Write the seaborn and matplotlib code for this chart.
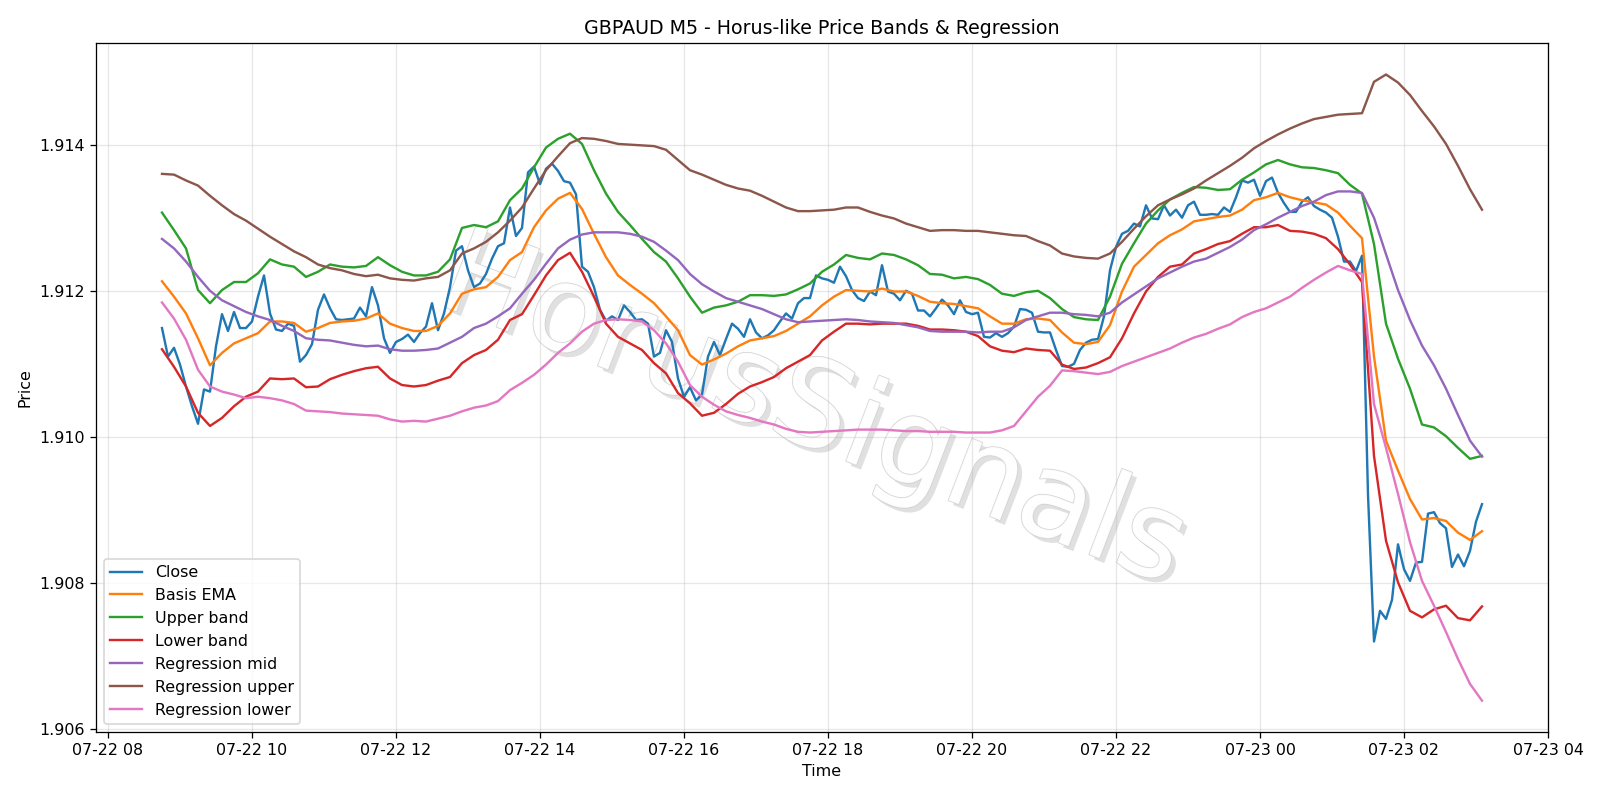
import numpy as np
import pandas as pd
import matplotlib
matplotlib.use("Agg")
import matplotlib.pyplot as plt
import matplotlib.dates as mdates
import matplotlib.patheffects as pe
import seaborn as sns

# ---- data ----
close_start = "2025-07-22 08:45"      # 5-minute closes
close = [
    1.91149, 1.91110, 1.91122,
    1.91099, 1.91069, 1.91042, 1.91018, 1.91065, 1.91062, 1.91124, 1.91168, 1.91145, 1.91171, 1.91149, 1.91149,
    1.91158, 1.91192, 1.91221, 1.91169, 1.91147, 1.91145, 1.91155, 1.91152, 1.91103, 1.91112, 1.91127, 1.91174,
    1.91195, 1.91176, 1.91161, 1.91160, 1.91161, 1.91162, 1.91177, 1.91165, 1.91205, 1.91180, 1.91135, 1.91115,
    1.91130, 1.91134, 1.91140, 1.91130, 1.91142, 1.91151, 1.91183, 1.91146, 1.91169, 1.91205, 1.91255, 1.91261,
    1.91228, 1.91205, 1.91210, 1.91223, 1.91244, 1.91261, 1.91265, 1.91314, 1.91275, 1.91286, 1.91362, 1.91370,
    1.91346, 1.91367, 1.91374, 1.91364, 1.91350, 1.91348, 1.91332, 1.91233, 1.91226, 1.91205, 1.91174, 1.91159,
    1.91165, 1.91160, 1.91180, 1.91171, 1.91160, 1.91161, 1.91155, 1.91110, 1.91115, 1.91146, 1.91130, 1.91080,
    1.91055, 1.91068, 1.91050, 1.91058, 1.91110, 1.91130, 1.91112, 1.91134, 1.91155, 1.91148, 1.91137, 1.91161,
    1.91143, 1.91135, 1.91139, 1.91146, 1.91158, 1.91169, 1.91162, 1.91183, 1.91190, 1.91190, 1.91221, 1.91217,
    1.91215, 1.91211, 1.91233, 1.91220, 1.91201, 1.91190, 1.91186, 1.91199, 1.91194, 1.91235, 1.91199, 1.91196,
    1.91187, 1.91200, 1.91196, 1.91173, 1.91173, 1.91165, 1.91176, 1.91188, 1.91180, 1.91168, 1.91187, 1.91171,
    1.91168, 1.91170, 1.91137, 1.91136, 1.91142, 1.91137, 1.91142, 1.91151, 1.91175, 1.91174, 1.91170, 1.91144,
    1.91143, 1.91143, 1.91119, 1.91097, 1.91096, 1.91100, 1.91119, 1.91129, 1.91133, 1.91134, 1.91165, 1.91228,
    1.91260, 1.91278, 1.91282, 1.91292, 1.91288, 1.91317, 1.91299, 1.91298, 1.91317, 1.91303, 1.91311, 1.91300,
    1.91317, 1.91322, 1.91304, 1.91304, 1.91305, 1.91304, 1.91314, 1.91308, 1.91328, 1.91351, 1.91348, 1.91352,
    1.91330, 1.91350, 1.91355, 1.91334, 1.91320, 1.91308, 1.91308, 1.91322, 1.91328, 1.91316, 1.91311, 1.91307,
    1.91300, 1.91274, 1.91240, 1.91240, 1.91227, 1.91248, 1.90921, 1.90720, 1.90762, 1.90751, 1.90777, 1.90853,
    1.90819, 1.90803, 1.90828, 1.90829, 1.90895, 1.90897, 1.90882, 1.90875, 1.90822, 1.90839, 1.90823, 1.90844,
    1.90884, 1.90908,
]

band_start = "2025-07-22 08:45"       # indicator values every 10 minutes
basis_ema = [
    1.91213, 1.91192,
    1.91169, 1.91135, 1.91098, 1.91115, 1.91128, 1.91135,
    1.91142, 1.91158, 1.91158, 1.91156, 1.91144, 1.91149,
    1.91156, 1.91158, 1.91159, 1.91162, 1.91169, 1.91155,
    1.91149, 1.91145, 1.91145, 1.91152, 1.91169, 1.91196,
    1.91202, 1.91205, 1.91219, 1.91242, 1.91253, 1.91287,
    1.91310, 1.91326, 1.91334, 1.91312, 1.91278, 1.91246,
    1.91221, 1.91208, 1.91196, 1.91183, 1.91165, 1.91146,
    1.91112, 1.91099, 1.91106, 1.91114, 1.91124, 1.91132,
    1.91135, 1.91138, 1.91145, 1.91155, 1.91165, 1.91180,
    1.91192, 1.91201, 1.91200, 1.91199, 1.91203, 1.91199,
    1.91199, 1.91193, 1.91185, 1.91183, 1.91182, 1.91179,
    1.91176, 1.91165, 1.91155, 1.91155, 1.91161, 1.91162,
    1.91160, 1.91143, 1.91129, 1.91127, 1.91130, 1.91153,
    1.91199, 1.91233, 1.91249, 1.91265, 1.91276, 1.91284,
    1.91295, 1.91298, 1.91301, 1.91303, 1.91311, 1.91324,
    1.91328, 1.91334, 1.91328, 1.91324, 1.91321, 1.91318,
    1.91307, 1.91289, 1.91272, 1.91110, 1.90995, 1.90954,
    1.90915, 1.90887, 1.90889, 1.90885, 1.90869, 1.90859,
    1.90871,
]
upper_band = [
    1.91307, 1.91283,
    1.91258, 1.91201, 1.91183, 1.91201, 1.91212, 1.91212,
    1.91224, 1.91243, 1.91236, 1.91233, 1.91219, 1.91226,
    1.91236, 1.91233, 1.91232, 1.91234, 1.91246, 1.91235,
    1.91226, 1.91221, 1.91221, 1.91226, 1.91243, 1.91286,
    1.91290, 1.91287, 1.91295, 1.91324, 1.91340, 1.91369,
    1.91396, 1.91408, 1.91415, 1.91401, 1.91365, 1.91333,
    1.91308, 1.91290, 1.91271, 1.91253, 1.91240, 1.91217,
    1.91192, 1.91170, 1.91177, 1.91180, 1.91185, 1.91194,
    1.91194, 1.91193, 1.91195, 1.91202, 1.91210, 1.91226,
    1.91236, 1.91249, 1.91245, 1.91243, 1.91251, 1.91249,
    1.91243, 1.91235, 1.91223, 1.91222, 1.91217, 1.91219,
    1.91216, 1.91208, 1.91196, 1.91193, 1.91198, 1.91200,
    1.91190, 1.91175, 1.91164, 1.91161, 1.91160, 1.91192,
    1.91237, 1.91265, 1.91292, 1.91310, 1.91325, 1.91334,
    1.91342, 1.91341, 1.91338, 1.91339, 1.91352, 1.91362,
    1.91373, 1.91379, 1.91373, 1.91369, 1.91368, 1.91365,
    1.91361, 1.91345, 1.91333, 1.91264, 1.91155, 1.91107,
    1.91066, 1.91017, 1.91013, 1.91001, 1.90985, 1.90970,
    1.90974,
]
lower_band = [
    1.91120, 1.91096,
    1.91069, 1.91033, 1.91015, 1.91026, 1.91042, 1.91055,
    1.91062, 1.91080, 1.91079, 1.91080, 1.91068, 1.91069,
    1.91079, 1.91085, 1.91090, 1.91094, 1.91096, 1.91080,
    1.91071, 1.91069, 1.91071, 1.91077, 1.91082, 1.91101,
    1.91112, 1.91119, 1.91133, 1.91160, 1.91168, 1.91194,
    1.91221, 1.91242, 1.91252, 1.91226, 1.91192, 1.91155,
    1.91137, 1.91128, 1.91119, 1.91101, 1.91087, 1.91060,
    1.91046, 1.91029, 1.91033, 1.91045, 1.91059, 1.91069,
    1.91075, 1.91082, 1.91094, 1.91103, 1.91112, 1.91132,
    1.91144, 1.91155, 1.91155, 1.91154, 1.91155, 1.91155,
    1.91155, 1.91152, 1.91147, 1.91147, 1.91146, 1.91144,
    1.91138, 1.91124, 1.91118, 1.91116, 1.91121, 1.91119,
    1.91118, 1.91099, 1.91093, 1.91095, 1.91101, 1.91109,
    1.91135, 1.91169, 1.91199, 1.91219, 1.91233, 1.91236,
    1.91251, 1.91257, 1.91264, 1.91268, 1.91278, 1.91287,
    1.91287, 1.91290, 1.91282, 1.91281, 1.91278, 1.91272,
    1.91257, 1.91236, 1.91212, 1.90974, 1.90858, 1.90801,
    1.90762, 1.90753, 1.90764, 1.90769, 1.90752, 1.90749,
    1.90768,
]
reg_mid = [
    1.91271, 1.91258,
    1.91240, 1.91219, 1.91200, 1.91187, 1.91179, 1.91171,
    1.91165, 1.91160, 1.91152, 1.91145, 1.91135, 1.91133,
    1.91132, 1.91129, 1.91126, 1.91124, 1.91125, 1.91120,
    1.91118, 1.91118, 1.91119, 1.91121, 1.91129, 1.91137,
    1.91149, 1.91155, 1.91165, 1.91176, 1.91196, 1.91215,
    1.91237, 1.91258, 1.91270, 1.91277, 1.91280, 1.91280,
    1.91280, 1.91278, 1.91274, 1.91267, 1.91255, 1.91242,
    1.91223, 1.91209, 1.91199, 1.91190, 1.91185, 1.91180,
    1.91175, 1.91168, 1.91161, 1.91157, 1.91158, 1.91159,
    1.91160, 1.91161, 1.91160, 1.91158, 1.91157, 1.91156,
    1.91153, 1.91150, 1.91145, 1.91144, 1.91144, 1.91144,
    1.91143, 1.91144, 1.91144, 1.91150, 1.91160, 1.91165,
    1.91170, 1.91170, 1.91168, 1.91167, 1.91165, 1.91170,
    1.91184, 1.91195, 1.91206, 1.91217, 1.91225, 1.91233,
    1.91240, 1.91244, 1.91252, 1.91260, 1.91270, 1.91283,
    1.91291, 1.91300, 1.91308, 1.91316, 1.91322, 1.91331,
    1.91336, 1.91336, 1.91334, 1.91300, 1.91250, 1.91201,
    1.91160, 1.91125, 1.91098, 1.91066, 1.91030, 1.90995,
    1.90973,
]
reg_upper = [
    1.91360, 1.91359,
    1.91351, 1.91344, 1.91330, 1.91317, 1.91305, 1.91296,
    1.91285, 1.91274, 1.91264, 1.91254, 1.91246, 1.91236,
    1.91231, 1.91228, 1.91223, 1.91220, 1.91222, 1.91217,
    1.91215, 1.91214, 1.91217, 1.91219, 1.91228, 1.91251,
    1.91258, 1.91267, 1.91280, 1.91296, 1.91314, 1.91340,
    1.91365, 1.91384, 1.91402, 1.91409, 1.91408, 1.91405,
    1.91401, 1.91400, 1.91399, 1.91398, 1.91393, 1.91379,
    1.91365, 1.91359, 1.91352, 1.91345, 1.91340, 1.91337,
    1.91330, 1.91322, 1.91314, 1.91309, 1.91309, 1.91310,
    1.91311, 1.91314, 1.91314, 1.91308, 1.91303, 1.91299,
    1.91292, 1.91287, 1.91282, 1.91283, 1.91283, 1.91282,
    1.91282, 1.91280, 1.91278, 1.91276, 1.91275, 1.91268,
    1.91262, 1.91251, 1.91247, 1.91245, 1.91244, 1.91251,
    1.91267, 1.91285, 1.91302, 1.91317, 1.91325, 1.91332,
    1.91340, 1.91351, 1.91361, 1.91371, 1.91382, 1.91395,
    1.91405, 1.91414, 1.91422, 1.91429, 1.91435, 1.91438,
    1.91441, 1.91442, 1.91443, 1.91486, 1.91496, 1.91485,
    1.91468, 1.91446, 1.91425, 1.91401, 1.91371, 1.91339,
    1.91311,
]
reg_lower = [
    1.91184, 1.91162,
    1.91133, 1.91092, 1.91069, 1.91062, 1.91058, 1.91053,
    1.91055, 1.91053, 1.91050, 1.91045, 1.91036, 1.91035,
    1.91034, 1.91032, 1.91031, 1.91030, 1.91029, 1.91024,
    1.91021, 1.91022, 1.91021, 1.91025, 1.91029, 1.91035,
    1.91040, 1.91043, 1.91049, 1.91064, 1.91074, 1.91085,
    1.91099, 1.91115, 1.91128, 1.91144, 1.91155, 1.91160,
    1.91161, 1.91160, 1.91158, 1.91146, 1.91128, 1.91103,
    1.91071, 1.91055, 1.91044, 1.91035, 1.91030, 1.91026,
    1.91021, 1.91017, 1.91011, 1.91007, 1.91006, 1.91007,
    1.91008, 1.91009, 1.91010, 1.91010, 1.91010, 1.91009,
    1.91008, 1.91008, 1.91007, 1.91007, 1.91007, 1.91006,
    1.91006, 1.91006, 1.91009, 1.91015, 1.91035, 1.91055,
    1.91070, 1.91091, 1.91090, 1.91088, 1.91086, 1.91089,
    1.91097, 1.91103, 1.91109, 1.91115, 1.91121, 1.91129,
    1.91136, 1.91141, 1.91148, 1.91154, 1.91164, 1.91171,
    1.91176, 1.91184, 1.91192, 1.91204, 1.91215, 1.91225,
    1.91234, 1.91228, 1.91223, 1.91045, 1.90985, 1.90922,
    1.90856, 1.90803, 1.90769, 1.90733, 1.90696, 1.90662,
    1.90639,
]

title = "GBPAUD M5 - Horus-like Price Bands & Regression"
watermark = "HorusSignals"

# ---- build tables ----
t_close = pd.date_range(close_start, periods=len(close), freq="5min")
t_band = pd.date_range(band_start, periods=len(basis_ema), freq="10min")
df_close = pd.DataFrame({"Time": t_close, "Price": close})
band_series = [
    ("Basis EMA", basis_ema, "#ff7f0e"),
    ("Upper band", upper_band, "#2ca02c"),
    ("Lower band", lower_band, "#d62728"),
    ("Regression mid", reg_mid, "#9467bd"),
    ("Regression upper", reg_upper, "#8c564b"),
    ("Regression lower", reg_lower, "#e377c2"),
]

fig, ax = plt.subplots(figsize=(14, 7), dpi=1600 / 14)
fig.subplots_adjust(left=0.06, right=0.9675, top=0.946, bottom=0.085)

sns.lineplot(data=df_close, x="Time", y="Price", ax=ax, color="#1f77b4",
             label="Close", linewidth=1.5, zorder=3)
for name, vals, col in band_series:
    d = pd.DataFrame({"Time": t_band, "Price": vals})
    sns.lineplot(data=d, x="Time", y="Price", ax=ax, color=col, label=name,
                 linewidth=1.5, zorder=3)

ax.set_title(title)
ax.set_xlabel("Time")
ax.set_ylabel("Price")
ax.grid(True, alpha=0.3)
ax.xaxis.set_major_locator(mdates.HourLocator(byhour=range(0, 24, 2)))
ax.xaxis.set_major_formatter(mdates.DateFormatter("%m-%d %H"))
ax.legend(loc="lower left")

ax.text(0.494, 0.463, watermark, transform=ax.transAxes, fontsize=76,
        color="white", alpha=0.9, rotation=-21, ha="center", va="center",
        rotation_mode="anchor", zorder=1,
        path_effects=[pe.withSimplePatchShadow(offset=(3, -3), shadow_rgbFace="#999999", alpha=0.3),
                      pe.Stroke(linewidth=1.0, foreground="#d0d0d0"), pe.Normal()])

fig.savefig("out.png", dpi=1600 / 14)
